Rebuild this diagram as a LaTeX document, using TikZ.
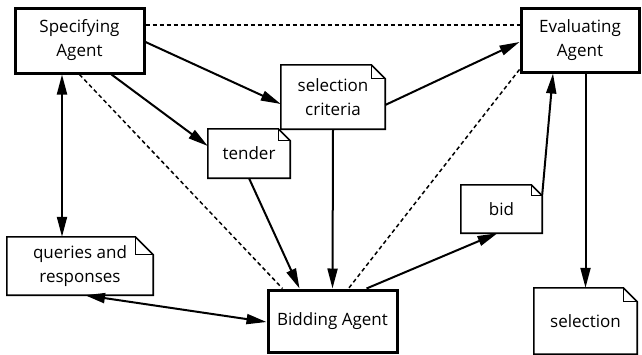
\documentclass[tikz,border=0pt]{standalone}
\usepackage{fontspec}
\setmainfont{Open Sans}
\usetikzlibrary{arrows.meta,calc}
\begin{document}
\begin{tikzpicture}[x=1pt,y=-1pt,
  txt/.style={align=center,inner sep=0pt,font=\fontsize{17}{24}\selectfont},
  agent/.style={txt,draw,line width=3pt},
  note/.style={txt},
  noteline/.style={line width=1.6pt,line join=miter},
  conn/.style={line width=2pt,-{Triangle[length=20pt,width=10pt]}},
  dconn/.style={line width=2pt,{Triangle[length=20pt,width=10pt]}-{Triangle[length=20pt,width=10pt]}},
  link/.style={line width=1.5pt,dash pattern=on 4pt off 3pt}]
\useasboundingbox (0,0) rectangle (642,354);
% agents
\node[agent,minimum width=129pt,minimum height=65pt] (spec) at (79.5,40.5) {Specifying\\Agent};
\node[agent,minimum width=118pt,minimum height=64pt] (eval) at (580,40) {Evaluating\\Agent};
\node[agent,minimum width=129pt,minimum height=62pt] (bidding) at (332.5,321) {Bidding Agent};
% notes
\node[note,minimum width=104pt,minimum height=64pt] (sc) at (333,97) {selection\\criteria};
\node[note,minimum width=82pt,minimum height=49pt] (tender) at (249,153.5) {tender};
\node[note,minimum width=146pt,minimum height=58pt] (q) at (80,266) {queries and\\responses};
\node[note,minimum width=81pt,minimum height=48pt] (bidnote) at (501.5,209) {bid};
\node[note,minimum width=103pt,minimum height=66pt] (sel) at (585.5,321) {selection};
\foreach \n/\f in {sc/14,tender/12,q/18,bidnote/11,sel/14}{
  \draw[noteline] (\n.south west) -- (\n.north west) -- ($(\n.north east)+(-\f,0)$)
    -- ($(\n.north east)+(0,\f)$) -- (\n.south east) -- cycle;
  \draw[line width=1.2pt] ($(\n.north east)+(-\f,0)$) -- ($(\n.north east)+(-\f,\f)$) -- ($(\n.north east)+(0,\f)$);
}
% dashed links
\draw[link] ($(spec.east)+(0,-15.5)$) -- ($(eval.west)+(0,-15)$);
\draw[link] (spec.south) -- ($(bidding.north)+(-50,0)$);
\draw[link] ($(eval.south west)+(0,-4)$) -- ($(bidding.north)+(16,0)$);
% arrows
\draw[conn] ($(spec.east)+(0,1.5)$) -- ($(sc.west)+(0,7)$);
\draw[conn] ($(spec.south)+(32,0)$) -- ($(tender.west)+(0,-7.5)$);
\draw[conn] (sc.south) -- (bidding.north);
\draw[conn] ($(sc.east)+(0,8)$) -- ($(eval.west)+(0,2)$);
\draw[conn] (tender.south) -- ($(bidding.north)+(-33,0)$);
\draw[dconn] ($(spec.south)+(-17.5,0)$) -- ($(q.north)+(-18,0)$);
\draw[dconn] ($(q.south)+(5,0)$) -- ($(bidding.west)+(0,1)$);
\draw[conn] ($(bidding.north)+(34,0)$) -- ($(bidnote.south)+(-4,0)$);
\draw[conn] ($(bidnote.north east)+(0,10)$) -- ($(eval.south)+(-27,0)$);
\draw[conn] ($(eval.south)+(5.5,0)$) -- (sel.north);
\end{tikzpicture}
\end{document}
